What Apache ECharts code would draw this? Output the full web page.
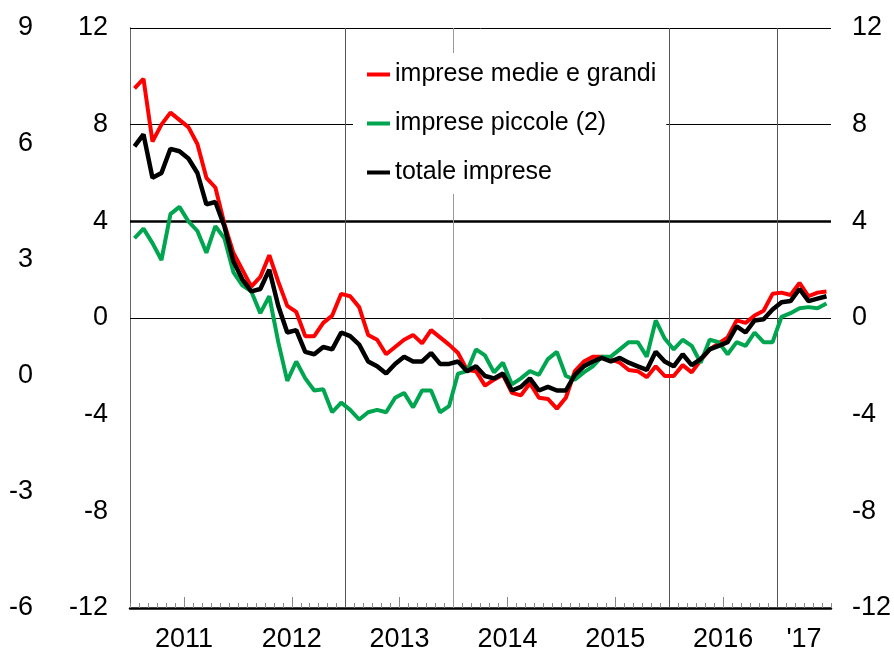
<!DOCTYPE html>
<html>
<head>
<meta charset="utf-8">
<script src="https://cdn.jsdelivr.net/npm/echarts@6/dist/echarts.min.js"></script>
<style>html,body{margin:0;padding:0;background:#fff}#c{width:894px;height:658px}</style>
</head>
<body>
<div id="c"></div>
<script>
// Monthly data, Jan 2011 .. Jun 2017 (78 months)
var seriesNames = ['imprese medie e grandi', 'imprese piccole (2)', 'totale imprese'];
var medieGrandi = [9.5,9.9,7.3,8.0,8.5,8.2,7.9,7.2,5.8,5.4,3.9,2.7,2.0,1.3,1.7,2.6,1.5,0.5,0.25,-0.75,-0.75,-0.2,0.1,1.0,0.9,0.45,-0.7,-0.9,-1.5,-1.2,-0.9,-0.7,-1.05,-0.5,-0.8,-1.1,-1.45,-2.15,-2.2,-2.8,-2.55,-2.35,-3.1,-3.2,-2.7,-3.3,-3.35,-3.75,-3.3,-2.2,-1.8,-1.6,-1.6,-1.7,-1.85,-2.15,-2.2,-2.45,-2.0,-2.4,-2.4,-1.95,-2.25,-1.75,-1.3,-1.05,-0.8,-0.1,-0.2,0.1,0.3,1.0,1.05,0.95,1.45,0.9,1.05,1.1];
var piccole = [3.3,3.7,3.1,2.4,4.3,4.6,4.0,3.6,2.7,3.8,3.3,1.9,1.35,1.1,0.2,0.9,-1.0,-2.6,-1.8,-2.5,-3.0,-2.95,-3.9,-3.5,-3.8,-4.2,-3.9,-3.8,-3.9,-3.3,-3.1,-3.7,-3.0,-3.0,-3.9,-3.65,-2.3,-2.2,-1.3,-1.55,-2.25,-1.85,-2.75,-2.5,-2.2,-2.35,-1.7,-1.4,-2.4,-2.55,-2.25,-2.0,-1.6,-1.6,-1.3,-1.0,-1.0,-1.6,-0.1,-0.85,-1.3,-0.9,-1.15,-1.85,-0.9,-1.0,-1.5,-1.0,-1.15,-0.6,-1.0,-1.0,0.05,0.2,0.4,0.45,0.4,0.6];
var totale = [7.1,7.6,5.8,6.0,7.0,6.9,6.6,6.0,4.7,4.8,3.8,2.35,1.6,1.1,1.2,2.0,0.5,-0.6,-0.5,-1.4,-1.5,-1.2,-1.3,-0.6,-0.75,-1.1,-1.8,-2.0,-2.3,-1.9,-1.6,-1.8,-1.8,-1.45,-1.9,-1.9,-1.8,-2.2,-2.0,-2.4,-2.5,-2.3,-3.0,-2.85,-2.5,-3.0,-2.85,-3.0,-3.0,-2.35,-2.0,-1.8,-1.65,-1.8,-1.65,-1.85,-2.0,-2.15,-1.4,-1.8,-2.0,-1.5,-1.95,-1.7,-1.3,-1.15,-1.0,-0.35,-0.6,-0.1,-0.05,0.35,0.65,0.7,1.2,0.7,0.8,0.9];
// x-axis labels (month index of label position -> text)
var yearLabelPos = [6, 18, 30, 42, 54, 66, 75];
var yearLabels = ['2011', '2012', '2013', '2014', '2015', '2016', "'17"];
var monthTicks = []; for (var m = 0; m <= 78; m++) monthTicks.push(m);
var midYearTicks = [6, 18, 30, 42, 54, 66];
var yearLines = [24, 36, 60, 72];
var hLinesThin = [12, 8, 0];
var hLineThick = [4];

function toXY(arr) { return arr.map(function (v, i) { return [i + 0.5, v]; }); }

var FONT = "'Liberation Sans Narrow', 'Liberation Sans', Arial, sans-serif";
var chart = echarts.init(document.getElementById('c'), null, {renderer: 'canvas'});
var labelStyle = {color: '#000', fontSize: 27, fontFamily: FONT};

chart.setOption({
  animation: false,
  backgroundColor: '#fff',
  grid: {left: 130, right: 62, top: 28, bottom: 50},
  legend: {
    data: seriesNames,
    orient: 'vertical',
    z: 20,
    left: 353, top: 53,
    padding: [9, 10, 9, 14],
    itemGap: 24,
    itemWidth: 23, itemHeight: 4,
    icon: 'rect',
    backgroundColor: '#fff',
    textStyle: {color: '#000', fontSize: 25, fontFamily: FONT},
    selectedMode: false
  },
  xAxis: [{
    type: 'value', min: 0, max: 78,
    axisLine: {show: true, onZero: false, lineStyle: {color: '#000', width: 2.5}},
    axisTick: {show: true, inside: true, length: 5, customValues: monthTicks, lineStyle: {color: '#888', width: 1}},
    axisLabel: {show: true, customValues: yearLabelPos, margin: 18, formatter: function (v) {
      var k = yearLabelPos.indexOf(v); return k >= 0 ? yearLabels[k] : '';
    }, color: '#000', fontSize: 27, fontFamily: FONT},
    splitLine: {show: false}
  }, {
    type: 'value', min: 0, max: 78, position: 'bottom',
    axisLine: {show: false, onZero: false},
    axisTick: {show: true, inside: true, length: 11, customValues: midYearTicks, lineStyle: {color: '#888', width: 1}},
    axisLabel: {show: false},
    splitLine: {show: false}
  }],
  yAxis: [{
    type: 'value', min: -12, max: 12, interval: 4, position: 'left',
    axisLine: {show: true, lineStyle: {color: '#666', width: 1}},
    axisTick: {show: false},
    axisLabel: Object.assign({margin: 22}, labelStyle),
    splitLine: {show: false}
  }, {
    type: 'value', min: -12, max: 12, interval: 4, position: 'right',
    axisLine: {show: true, lineStyle: {color: '#666', width: 1}},
    axisTick: {show: false},
    axisLabel: Object.assign({margin: 21}, labelStyle),
    splitLine: {show: false}
  }, {
    type: 'value', min: -6, max: 9, interval: 3, position: 'left', offset: 90,
    axisLine: {show: false},
    axisTick: {show: false},
    axisLabel: Object.assign({margin: 7}, labelStyle),
    splitLine: {show: false}
  }],
  series: [{
    name: 'lines', type: 'line', data: [], z: 1, silent: true,
    markLine: {
      z: 1,
      silent: true, symbol: 'none', label: {show: false}, animation: false,
      data: [].concat(
        hLinesThin.map(function (v) { return {yAxis: v, lineStyle: {color: '#000', width: 1, type: 'solid'}}; }),
        hLineThick.map(function (v) { return {yAxis: v, lineStyle: {color: '#000', width: 2.5, type: 'solid'}}; }),
        yearLines.map(function (v) { return {xAxis: v, lineStyle: {color: v === 36 ? '#999' : '#555', width: 1, type: 'solid'}}; })
      )
    }
  }, {
    name: seriesNames[0], type: 'line', data: toXY(medieGrandi), showSymbol: false, symbol: 'none',
    lineStyle: {color: '#ff0000', width: 4}, itemStyle: {color: '#ff0000'}, z: 3
  }, {
    name: seriesNames[1], type: 'line', data: toXY(piccole), showSymbol: false, symbol: 'none',
    lineStyle: {color: '#00a550', width: 4}, itemStyle: {color: '#00a550'}, z: 3
  }, {
    name: seriesNames[2], type: 'line', data: toXY(totale), showSymbol: false, symbol: 'none',
    lineStyle: {color: '#000', width: 4.5}, itemStyle: {color: '#000'}, z: 3
  }]
});
</script>
</body>
</html>
